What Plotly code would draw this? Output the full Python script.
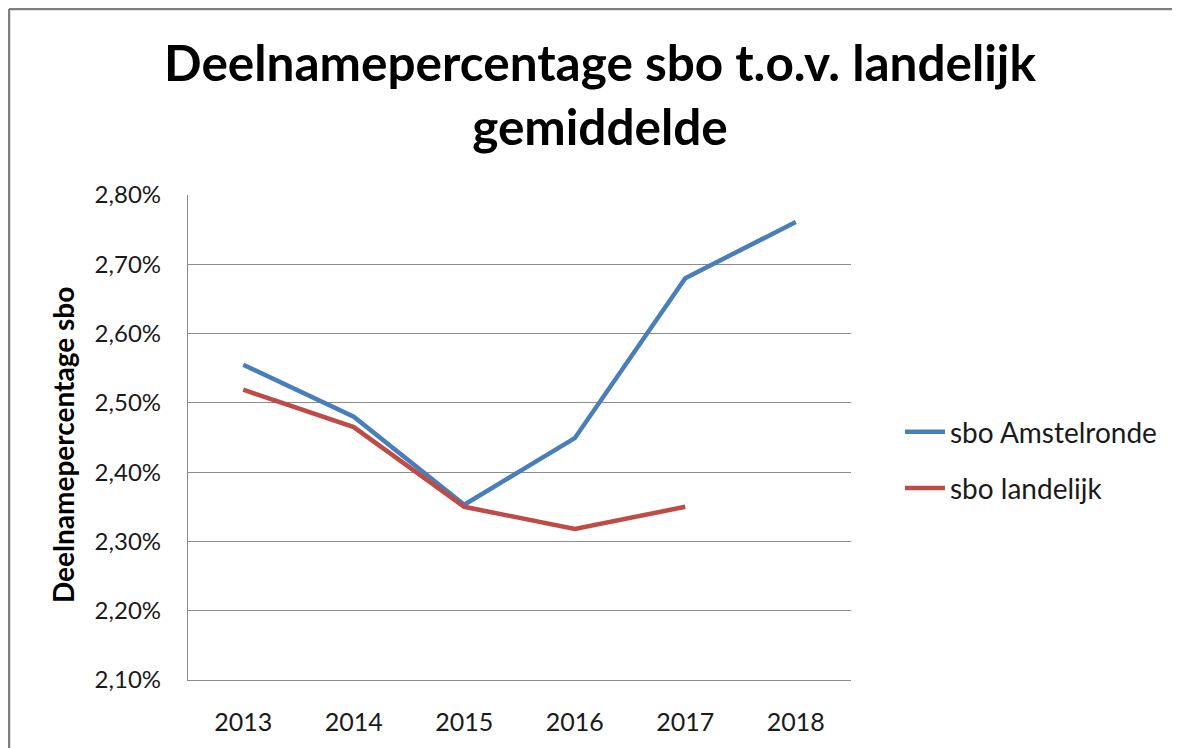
import plotly.graph_objects as go

years = ["2013", "2014", "2015", "2016", "2017", "2018"]
amstelronde = [2.555, 2.480, 2.353, 2.449, 2.680, 2.761]
landelijk = [2.519, 2.465, 2.350, 2.318, 2.350, None]
y_ticks = [2.10, 2.20, 2.30, 2.40, 2.50, 2.60, 2.70, 2.80]
y_tick_labels = ["2,10%", "2,20%", "2,30%", "2,40%", "2,50%", "2,60%", "2,70%", "2,80%"]

W, H = 1180, 748
OFF = 8  # page body margin offset
L, R, T, B = 188 - OFF, 851 - OFF, 195 - OFF, 680 - OFF

fig = go.Figure()
fig.add_trace(go.Scatter(x=years, y=amstelronde, mode="lines", name="sbo Amstelronde",
                         legendgroup="a", line=dict(color="#4A7EBB", width=4.5)))
fig.add_trace(go.Scatter(x=years, y=landelijk, mode="lines", name="sbo landelijk",
                         legendgroup="b", line=dict(color="#BE4B48", width=4.5), connectgaps=False))

FONT = "Lato, Carlito, Calibri, sans-serif"


def px2paper_x(px):
    return (px - OFF - L) / (R - L)


def px2paper_y(py):
    return (B - (py - OFF)) / (B - T)


fig.update_layout(
    width=W, height=H,
    margin=dict(l=L, r=W - R, t=T, b=H - B, pad=0),
    paper_bgcolor="white", plot_bgcolor="white",
    font=dict(family=FONT, color="#1a1a1a"),
    title=dict(text="<b>Deelnamepercentage sbo t.o.v. landelijk<br>gemiddelde</b>",
               x=(600 - OFF) / W, xanchor="center", y=1 - (81 - OFF) / H, yanchor="middle",
               font=dict(size=49.5, family=FONT, color="black")),
    xaxis=dict(type="category", range=[-0.5, len(years) - 0.5],
               showgrid=False, showline=True, linecolor="#8c8c8c", linewidth=1.3, ticks="",
               tickfont=dict(size=25, family=FONT, color="#1a1a1a"), ticklabelstandoff=20),
    yaxis=dict(range=[2.10, 2.80], tickvals=y_ticks, ticktext=y_tick_labels,
               showgrid=True, gridcolor="#8c8c8c", gridwidth=1.3,
               showline=True, linecolor="#8c8c8c", linewidth=1.3, ticks="",
               tickfont=dict(size=24, family=FONT, color="#1a1a1a"), ticklabelstandoff=21),
    legend=dict(x=px2paper_x(900), y=px2paper_y(460), xanchor="left", yanchor="middle",
                font=dict(size=28, family=FONT, color="#1a1a1a"),
                tracegroupgap=17, itemwidth=40, bgcolor="rgba(0,0,0,0)"),
    showlegend=True,
)

fig.add_annotation(text="<b>Deelnamepercentage sbo</b>", textangle=-90,
                   xref="paper", yref="paper", x=px2paper_x(63), y=px2paper_y(445),
                   xanchor="center", yanchor="middle", showarrow=False,
                   font=dict(size=28, family=FONT, color="black"))

# outer chart border (left and top edges visible in the reference)
border = dict(color="#7f7f7f", width=2.5)
fig.add_shape(type="line", xref="paper", yref="paper",
              x0=px2paper_x(9), x1=px2paper_x(9), y0=px2paper_y(9), y1=px2paper_y(760), line=border)
fig.add_shape(type="line", xref="paper", yref="paper",
              x0=px2paper_x(9), x1=px2paper_x(1200), y0=px2paper_y(9), y1=px2paper_y(9), line=border)

fig.write_html("out.html")
